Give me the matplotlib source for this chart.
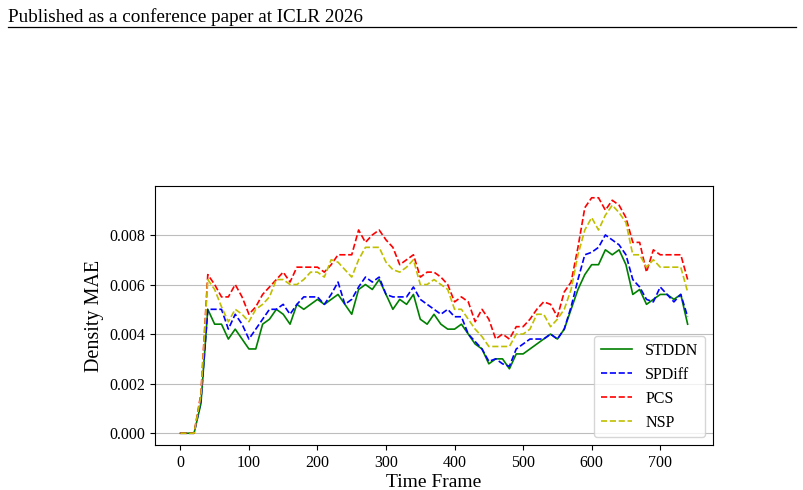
import matplotlib
matplotlib.use("Agg")
import matplotlib.pyplot as plt
from matplotlib.lines import Line2D

plt.rcParams["font.family"] = ["Liberation Serif", "DejaVu Serif"]

# Time frames sampled every 10 steps
frames = list(range(0, 750, 10))

stddn = [0, 0, 0, 0.0012, 0.0050, 0.0044, 0.0044, 0.0038, 0.0042, 0.0038,
         0.0034, 0.0034, 0.0044, 0.0046, 0.0050, 0.0048, 0.0044, 0.0052, 0.0050, 0.0052,
         0.0054, 0.0052, 0.0054, 0.0056, 0.0052, 0.0048, 0.0058, 0.0060, 0.0058, 0.0062,
         0.0056, 0.0050, 0.0054, 0.0052, 0.0056, 0.0046, 0.0044, 0.0048, 0.0044, 0.0042,
         0.0042, 0.0044, 0.0040, 0.0036, 0.0034, 0.0028, 0.0030, 0.0030, 0.0026, 0.0032,
         0.0032, 0.0034, 0.0036, 0.0038, 0.0040, 0.0038, 0.0042, 0.0050, 0.0058, 0.0064,
         0.0068, 0.0068, 0.0074, 0.0072, 0.0074, 0.0068, 0.0056, 0.0058, 0.0052, 0.0054,
         0.0056, 0.0056, 0.0054, 0.0056, 0.0044]

spdiff = [0, 0, 0, 0.0013, 0.0050, 0.0050, 0.0050, 0.0042, 0.0048, 0.0044,
          0.0038, 0.0042, 0.0046, 0.0050, 0.0050, 0.0052, 0.0048, 0.0052, 0.0055, 0.0055,
          0.0055, 0.0052, 0.0056, 0.0061, 0.0052, 0.0054, 0.0059, 0.0063, 0.0061, 0.0063,
          0.0056, 0.0055, 0.0055, 0.0055, 0.0059, 0.0054, 0.0052, 0.0050, 0.0048, 0.0050,
          0.0047, 0.0047, 0.0040, 0.0037, 0.0034, 0.0029, 0.0030, 0.0028, 0.0027, 0.0034,
          0.0036, 0.0038, 0.0038, 0.0038, 0.0040, 0.0038, 0.0042, 0.0051, 0.0062, 0.0072,
          0.0073, 0.0075, 0.0080, 0.0078, 0.0076, 0.0072, 0.0062, 0.0059, 0.0054, 0.0053,
          0.0059, 0.0056, 0.0053, 0.0056, 0.0047]

pcs = [0, 0, 0, 0.0016, 0.0064, 0.0060, 0.0055, 0.0055, 0.0060, 0.0055,
       0.0048, 0.0051, 0.0056, 0.0059, 0.0062, 0.0065, 0.0061, 0.0067, 0.0067, 0.0067,
       0.0067, 0.0065, 0.0068, 0.0072, 0.0072, 0.0072, 0.0082, 0.0077, 0.0080, 0.0082,
       0.0078, 0.0075, 0.0068, 0.0070, 0.0072, 0.0063, 0.0065, 0.0065, 0.0063, 0.0060,
       0.0053, 0.0055, 0.0053, 0.0045, 0.0050, 0.0046, 0.0038, 0.0040, 0.0038, 0.0043,
       0.0043, 0.0046, 0.0050, 0.0053, 0.0052, 0.0047, 0.0057, 0.0061, 0.0075, 0.0091,
       0.0095, 0.0095, 0.0090, 0.0094, 0.0092, 0.0087, 0.0077, 0.0077, 0.0065, 0.0074,
       0.0072, 0.0072, 0.0072, 0.0072, 0.0062]

nsp = [0, 0, 0, 0.0015, 0.0062, 0.0058, 0.0051, 0.0045, 0.0050, 0.0048,
       0.0045, 0.0050, 0.0052, 0.0055, 0.0062, 0.0062, 0.0060, 0.0060, 0.0062, 0.0065,
       0.0065, 0.0063, 0.0070, 0.0069, 0.0066, 0.0063, 0.0070, 0.0075, 0.0075, 0.0075,
       0.0069, 0.0066, 0.0065, 0.0067, 0.0070, 0.0060, 0.0060, 0.0062, 0.0060, 0.0058,
       0.0050, 0.0050, 0.0046, 0.0042, 0.0039, 0.0035, 0.0035, 0.0035, 0.0035, 0.0040,
       0.0040, 0.0042, 0.0048, 0.0048, 0.0043, 0.0046, 0.0050, 0.0058, 0.0072, 0.0082,
       0.0087, 0.0082, 0.0088, 0.0092, 0.0089, 0.0085, 0.0072, 0.0072, 0.0067, 0.0070,
       0.0067, 0.0067, 0.0067, 0.0067, 0.0057]

fig = plt.figure(figsize=(8.04, 4.9), dpi=100)

# page header like the paper
fig.text(8 / 804, 1 - 22 / 490, "Published as a conference paper at ICLR 2026",
         fontsize=13.75, ha="left", va="baseline")
fig.add_artist(Line2D([8 / 804, 796 / 804], [1 - 27 / 490, 1 - 27 / 490],
                      color="black", lw=0.9, transform=fig.transFigure))

ax = fig.add_axes([155 / 804, 45 / 490, 558 / 804, 259 / 490])
ax.plot(frames, stddn, color="g", linestyle="-", lw=1.2, label="STDDN")
ax.plot(frames, spdiff, color="b", linestyle="--", lw=1.2, label="SPDiff")
ax.plot(frames, pcs, color="r", linestyle="--", lw=1.2, label="PCS")
ax.plot(frames, nsp, color="y", linestyle="--", lw=1.2, label="NSP")

ax.set_yticks([0, 0.002, 0.004, 0.006, 0.008])
ax.set_xticks(range(0, 800, 100))
ax.grid(axis="y", color="#bdbdbd", lw=0.8)
ax.set_axisbelow(True)
ax.tick_params(labelsize=11.5)
ax.set_xlabel("Time Frame", fontsize=14, labelpad=2)
ax.set_ylabel("Density MAE", fontsize=14.5)
ax.legend(loc="lower right", fontsize=11.5)

fig.savefig("out.png", dpi=100)
